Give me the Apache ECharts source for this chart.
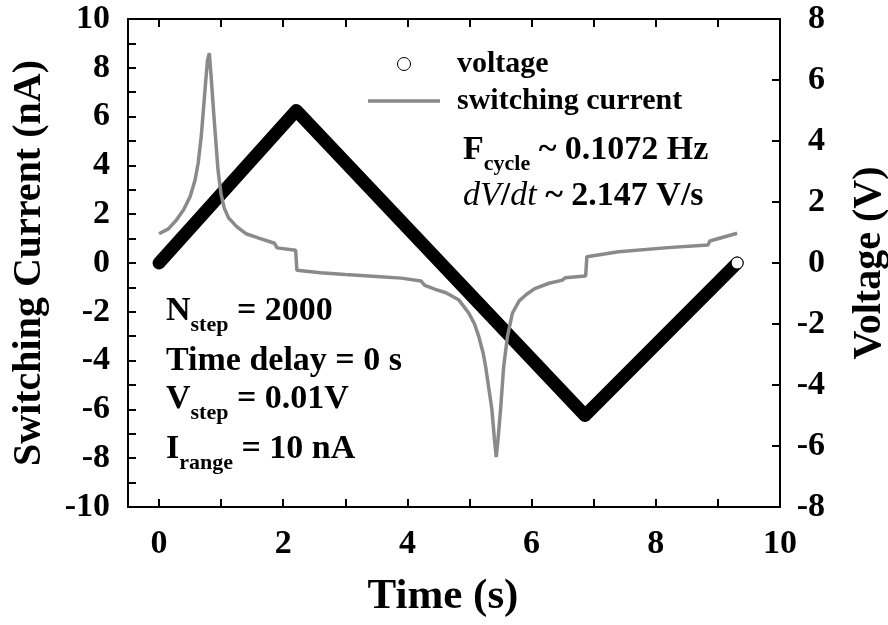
<!DOCTYPE html>
<html>

<head>
  <meta charset="utf-8" />
  <script src="https://cdn.jsdelivr.net/npm/echarts@6/dist/echarts.min.js"></script>
</head>

<body style="margin:0">
  <div id="main" style="width: 888px;height:625px;"></div>
  <script type="text/javascript">
    var font = "'Liberation Serif', 'Times New Roman', serif"

    // switching current (nA), left axis
    var currentTime = [0.00, 0.15, 0.28, 0.40, 0.50, 0.58, 0.63, 0.68, 0.71, 0.75, 0.78, 0.81, 0.84, 0.88, 0.92, 0.95,
      1.00, 1.05, 1.12, 1.25, 1.40, 1.62, 1.86, 1.90, 2.20, 2.22, 2.60, 3.00, 3.50, 3.90, 4.22, 4.28, 4.45, 4.62,
      4.83, 4.99, 5.08, 5.15, 5.22, 5.26, 5.32, 5.36, 5.40, 5.43, 5.46, 5.50, 5.55, 5.61, 5.69, 5.80, 5.92, 6.05,
      6.28, 6.50, 6.54, 6.87, 6.89, 7.40, 8.20, 8.84, 8.87, 9.31]
    var currentValue = [1.20, 1.40, 1.76, 2.20, 2.72, 3.40, 4.10, 5.20, 6.14, 7.40, 8.30, 8.60, 7.60, 6.14, 4.80, 3.80,
      2.80, 2.25, 1.85, 1.49, 1.20, 1.01, 0.81, 0.62, 0.52, -0.30, -0.40, -0.47, -0.55, -0.62, -0.74, -0.92, -1.08, -1.22,
      -1.52, -2.06, -2.50, -3.02, -3.70, -4.25, -5.30, -6.00, -7.20, -7.95, -7.20, -6.00, -4.25, -3.02, -2.06, -1.55, -1.28, -1.05,
      -0.83, -0.70, -0.60, -0.53, 0.26, 0.46, 0.63, 0.74, 0.90, 1.22]

    // voltage sweep (V), right axis - corners of the triangle
    var voltageTime = [0, 2.21, 6.86, 9.31]
    var voltageValue = [0, 5, -5, 0]

    var timeTicks = [0, 1, 2, 3, 4, 5, 6, 7, 8, 9, 10]
    var timeLabels = [0, 2, 4, 6, 8, 10]

    var myChart = echarts.init(document.getElementById('main'));

    var currentData = currentTime.map(function (t, i) { return [t, currentValue[i]] })
    var voltageData = voltageTime.map(function (t, i) { return [t, voltageValue[i]] })
    var last = voltageData.length - 1
    voltageData[last] = {
      value: voltageData[last], symbol: 'circle', symbolSize: 12,
      itemStyle: { color: '#fff', borderColor: '#000', borderWidth: 1 }
    }

    var grey = '#8a8a8a'
    var black = { color: '#000', width: 2 }
    var labelStyle = { color: '#000', fontFamily: font, fontWeight: 'bold', fontSize: 34 }
    var nameStyle = { color: '#000', fontFamily: font, fontWeight: 'bold', fontSize: 40 }

    var m = { fontFamily: font, fontWeight: 'bold', fontSize: 34, lineHeight: 34, verticalAlign: 'bottom', padding: [0, 0, 8, 0], color: '#000' }
    var it = { fontFamily: font, fontStyle: 'italic', fontSize: 34, lineHeight: 34, verticalAlign: 'bottom', padding: [0, 0, 8, 0], color: '#000' }
    var s = { fontFamily: font, fontWeight: 'bold', fontSize: 22, lineHeight: 22, verticalAlign: 'bottom', color: '#000' }
    function note(x, y, text) {
      return {
        type: 'text', x: x, y: y,
        style: { text: text, rich: { m: m, s: s, i: it }, verticalAlign: 'bottom', align: 'left' }
      }
    }

    var option = {
      animation: false,
      grid: { left: 128, right: 108, top: 19, bottom: 118, outerBoundsMode: 'none' },
      legend: {
        orient: 'vertical', left: 368, top: 49, padding: 0, itemWidth: 72, itemHeight: 13, itemGap: 7,
        textStyle: { color: '#000', fontFamily: font, fontWeight: 'bold', fontSize: 30, lineHeight: 30, padding: [0, 0, 0, 12] },
        data: [
          { name: 'voltage', icon: 'circle', itemStyle: { color: '#fff', borderColor: '#000', borderWidth: 1 } },
          { name: 'switching current', icon: 'path://M0 0H72V3.5H0Z', itemStyle: { color: grey, borderWidth: 0 } }
        ]
      },
      xAxis: [
        {
          type: 'value', min: -0.5, max: 10,
          name: 'Time (s)', nameLocation: 'middle', nameGap: 68,
          nameTextStyle: { color: '#000', fontFamily: font, fontWeight: 'bold', fontSize: 43, padding: [0, 22, 0, 0] },
          axisLine: { show: true, onZero: false, lineStyle: black },
          axisTick: { inside: true, length: 8, customValues: timeTicks, lineStyle: black },
          axisLabel: { customValues: timeLabels, margin: 20, color: '#000', fontFamily: font, fontWeight: 'bold', fontSize: 34 },
          splitLine: { show: false }
        },
        {
          type: 'value', position: 'top', min: -0.5, max: 10,
          axisLine: { show: true, onZero: false, lineStyle: black },
          axisTick: { inside: true, length: 8, customValues: timeTicks, lineStyle: black },
          axisLabel: { show: false },
          splitLine: { show: false }
        }
      ],
      yAxis: [
        {
          type: 'value', min: -10, max: 10, interval: 2,
          name: 'Switching Current (nA)', nameLocation: 'middle', nameGap: 78, nameTextStyle: nameStyle,
          axisLine: { show: true, onZero: false, lineStyle: black },
          axisTick: { inside: true, length: 8, lineStyle: black },
          minorTick: { show: true, splitNumber: 2, length: 8, lineStyle: black },
          axisLabel: { margin: 18, color: '#000', fontFamily: font, fontWeight: 'bold', fontSize: 34 },
          splitLine: { show: false }
        },
        {
          type: 'value', position: 'right', min: -8, max: 8, interval: 2,
          name: 'Voltage (V)', nameLocation: 'middle', nameGap: 70, nameTextStyle: nameStyle,
          axisLine: { show: true, onZero: false, lineStyle: black },
          axisTick: { inside: true, length: 8, lineStyle: black },
          axisLabel: { margin: 45, align: 'right', color: '#000', fontFamily: font, fontWeight: 'bold', fontSize: 34 },
          splitLine: { show: false }
        }
      ],
      series: [
        {
          name: 'voltage', type: 'line', yAxisIndex: 1, data: voltageData,
          symbol: 'none', showSymbol: true,
          lineStyle: { color: '#000', width: 13, cap: 'round', join: 'round' },
          itemStyle: { color: '#000' }
        },
        {
          name: 'switching current', type: 'line', yAxisIndex: 0, data: currentData,
          symbol: 'none',
          lineStyle: { color: grey, width: 3.5 },
          itemStyle: { color: grey }
        }
      ],
      graphic: [
        note(463, 175, '{m|F}{s|cycle}{m| ~ 0.1072 Hz}'),
        note(463, 221, '{i|dV}{m|/}{i|dt}{m| ~ 2.147 V/s}'),
        note(166, 336, '{m|N}{s|step}{m| = 2000}'),
        note(166, 386, '{m|Time delay = 0 s}'),
        note(166, 424, '{m|V}{s|step}{m| = 0.01V}'),
        note(166, 474, '{m|I}{s|range}{m| = 10 nA}')
      ]
    };

    myChart.setOption(option);
  </script>
</body>

</html>
